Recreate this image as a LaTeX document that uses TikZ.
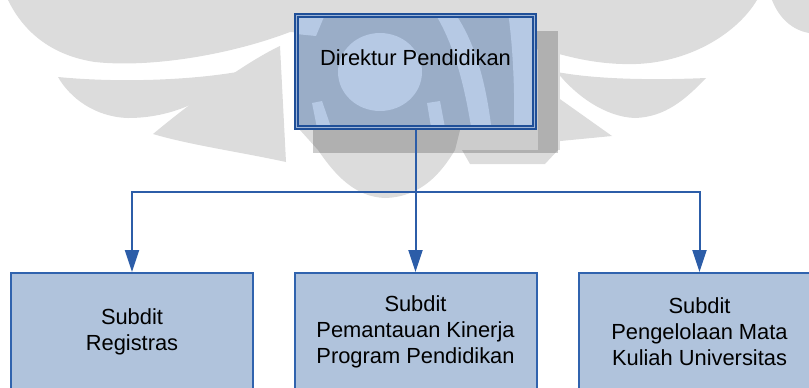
\documentclass[tikz,border=0pt]{standalone}
\usepackage{fontspec}
\setmainfont{Liberation Sans}
\usetikzlibrary{arrows.meta}

\definecolor{linkblue}{HTML}{2C5DA8}
\definecolor{boxfill}{HTML}{B0C3DC}
\definecolor{boxedge}{HTML}{3063AE}
\definecolor{topedge}{HTML}{1F4F98}
\definecolor{topgap}{HTML}{9DB4D6}
\definecolor{topdark}{HTML}{9AADC7}
\definecolor{toplight}{HTML}{B6C9E4}
\definecolor{wmgrey}{HTML}{DCDCDC}

\begin{document}
\begin{tikzpicture}[x=0.75pt,y=-0.75pt,
  labeltext/.style={font=\fontsize{16.4}{19.5}\selectfont, align=center, text=black},
  unitbox/.style={labeltext, draw=boxedge, fill=boxfill, line width=1.5pt,
    minimum width=181.5pt, minimum height=87.75pt, inner sep=0pt},
  headbox/.style={fill=topdark, minimum width=178.5pt, minimum height=84pt,
    inner sep=0pt, outer sep=0pt},
  headborder/.style={draw=topedge, line width=1.5pt, double=topgap, double distance=1pt},
  link/.style={draw=linkblue, line width=1.5pt},
  arrowlink/.style={link, -{Triangle[length=16.5pt,width=10.5pt]}},
  emblem/.style={fill=wmgrey}
]
\useasboundingbox (0,0) rectangle (809,387);

% faded emblem in the background
\fill[emblem] (8,0) -- (757,0) .. controls (738,32) and (692,62) .. (636,64)
  .. controls (600,65) and (572,58) .. (545,50) -- (290,32)
  .. controls (230,55) and (150,68) .. (95,62) .. controls (55,56) and (25,35) .. cycle;
\fill[emblem] (772,0) -- (809,0) -- (809,33) .. controls (792,30) and (779,18) .. cycle;
\fill[emblem] (58,77) .. controls (120,83) and (190,80) .. (237,72)
  .. controls (205,105) and (165,118) .. (128,118) .. controls (95,117) and (70,98) .. cycle;
\fill[emblem] (153,134) .. controls (200,95) and (250,60) .. (280,46) -- (286,162)
  .. controls (240,152) and (190,145) .. cycle;
\fill[emblem] (557,72) .. controls (600,80) and (660,80) .. (706,78)
  .. controls (685,100) and (665,117) .. (635,118) .. controls (605,117) and (575,95) .. cycle;
\fill[emblem] (550,92) -- (612,136) -- (550,142) -- cycle;
\fill[emblem] (300,130) -- (460,130) -- (455,150) .. controls (440,175) and (420,197) .. (385,198)
  .. controls (355,197) and (335,175) .. (318,150) -- cycle;
\fill[emblem] (462,150) -- (558,150) -- (545,164) -- (470,164) -- cycle;
\fill[emblem] (538,0) rectangle (560,150);

% drop shadow of the head box
\fill[black,opacity=0.2] (313,31) rectangle (558,153);

% head box
\node[headbox] (dir) at (415.5,71.5) {};
\begin{scope}
  \clip (dir.south west) rectangle (dir.north east);
  \fill[toplight] (380,72) ellipse [x radius=42, y radius=39];
  \fill[toplight] (296,12) -- (326,12) -- (316,36) -- (296,34) -- cycle;
  \fill[toplight] (312,103) -- (322,101) -- (333,133) -- (318,133) -- cycle;
  \fill[toplight] (427,103) -- (440,101) -- (446,133) -- (432,133) -- cycle;
  \fill[toplight] (434,12) .. controls (452,40) and (464,80) .. (472,133)
    -- (492,133) .. controls (486,80) and (474,40) .. (454,12) -- cycle;
  \fill[toplight] (508,12) -- (532,12) -- (534,133) -- (514,133)
    .. controls (515,80) and (512,40) .. cycle;
\end{scope}
\node[labeltext, anchor=base] (dirtext) at (415.5,65.5) {Direktur Pendidikan};

% subdivisions
\node[unitbox] (reg) at (132,331.5) {Subdit\\Registras};
\node[unitbox] (pem) at (415.5,331.5) {Subdit\\Pemantauan Kinerja\\Program Pendidikan};
\node[unitbox] (mk) at (699.5,331.5) {Subdit\\Pengelolaan Mata\\Kuliah Universitas};

% connectors
\coordinate (bus) at (415.5,192);
\draw[arrowlink] (dir.south) -- (bus) -| (reg.north);
\draw[arrowlink] (dir.south) -- (pem.north);
\draw[arrowlink] (dir.south) -- (bus) -| (mk.north);

\draw[headborder] (dir.south west) rectangle (dir.north east);
\end{tikzpicture}
\end{document}
